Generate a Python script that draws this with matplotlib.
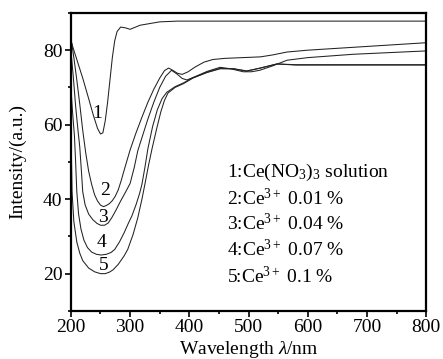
import matplotlib
matplotlib.use("Agg")
import matplotlib.pyplot as plt
from matplotlib.ticker import MultipleLocator

plt.rcParams['font.family'] = ['Liberation Serif', 'DejaVu Serif']
plt.rcParams['mathtext.fontset'] = 'custom'
plt.rcParams['mathtext.rm'] = 'Liberation Serif'
plt.rcParams['mathtext.it'] = 'Liberation Serif:italic'

# ---- data ----
x1 = [200, 210, 220, 230, 238, 245, 250, 254, 258, 262, 266, 270, 274, 278, 284, 292, 300, 317, 350, 380, 800]
y1 = [82.5, 77.5, 72.5, 67, 62.5, 59, 57.5, 57.8, 61, 66, 72, 78, 82.5, 85, 86.2, 86, 85.6, 86.7, 87.6, 87.8, 87.8]

x2 = [200, 205, 210, 215, 220, 225, 230, 235, 240, 245, 250, 255, 260, 265, 270, 275, 280, 285, 290, 300, 310,
      320, 330, 340, 350, 358, 365, 372, 380, 388, 398, 410, 425, 440, 460, 490, 520, 540, 565, 600, 680, 800]
y2 = [83.5, 78, 72, 65.5, 58.5, 52.5, 47.5, 44, 41.2, 39.5, 38.4, 38, 38.3, 38.8, 39.6, 40.8, 42.5, 45, 47.8, 53.2, 57.8,
      62, 66, 69.5, 72.5, 74.5, 75.2, 74.6, 73.8, 73.5, 74.2, 75.5, 76.8, 77.5, 77.8, 78, 78.2, 78.7, 79.5, 80, 80.8, 82]

x3 = [200, 204, 208, 212, 215, 218, 220, 224, 230, 237, 244, 250, 257, 263, 269, 276, 284, 292, 300, 307, 313, 322,
      330, 340, 350, 360, 370, 380, 388, 396, 410, 430, 452, 470, 491, 505, 519, 541, 565, 600, 677, 800]
y3 = [80, 73, 65, 58.5, 54, 47, 42, 38.5, 36, 34.5, 33.5, 33, 33, 33.6, 35, 37, 39.5, 41.8, 44.2, 48.5, 53, 57.5,
      61.5, 66, 70, 73, 74.6, 73.5, 72.4, 72, 72.9, 74.3, 75.4, 75, 74.2, 74.2, 74.6, 75.8, 77.3, 78, 78.9, 79.8]

x4 = [200, 203, 206, 208, 210, 213, 217, 222, 228, 235, 243, 251, 260, 268, 274, 282, 290, 297, 303, 310, 316, 320,
      325, 330, 338, 346, 354, 362, 376, 390, 406, 430, 452, 475, 497, 520, 548, 580, 650, 800]
y4 = [70, 63, 57, 50, 42, 36, 32, 29, 27, 25.8, 25.2, 25, 25.2, 25.7, 26.5, 28.5, 31, 33.5, 35.5, 38.5, 41.5, 44,
      48.5, 53.5, 59.5, 64, 67, 68.7, 70.2, 71.2, 72.6, 74.1, 75.1, 75, 74.4, 75.2, 76.3, 76.1, 76.1, 76.1]

x5 = [200, 202, 205, 210, 215, 220, 230, 240, 250, 258, 265, 271, 280, 290, 296, 305, 313, 320, 325, 331, 337, 345,
      352, 358, 364, 376, 390, 406, 430, 452, 475, 497, 520, 548, 580, 620, 800]
y5 = [60, 42, 34, 28.5, 25.5, 23.5, 21.5, 20.5, 20, 20, 20.4, 21, 22.5, 24.8, 26.5, 30.5, 35, 40, 44, 49, 53.5, 59,
      63.5, 66.5, 68.5, 70, 71, 72.5, 74, 75, 75, 74.4, 75.2, 76.3, 76, 76, 76]

curve_labels = ["1", "2", "3", "4", "5"]
label_x = [244, 257, 254, 252, 256]
label_y = [63, 42.4, 35, 28.4, 22.2]

legend_lines = ["1:Ce(NO$_3$)$_3$ solution", "2:Ce$^{3+}$ 0.01 %", "3:Ce$^{3+}$ 0.04 %",
                "4:Ce$^{3+}$ 0.07 %", "5:Ce$^{3+}$ 0.1 %"]
legend_x = 464
legend_y = [47.2, 40.2, 33.5, 26.5, 19.2]

# ---- figure ----
fig = plt.figure(figsize=(4.43, 3.59), dpi=100)
ax = fig.add_axes([0.160, 0.134, 0.802, 0.830])

for xs, ys in [(x1, y1), (x2, y2), (x3, y3), (x4, y4), (x5, y5)]:
    ax.plot(xs, ys, color='#222222', lw=0.75)

for t, lx, ly in zip(curve_labels, label_x, label_y):
    ax.text(lx, ly, t, fontsize=14, ha='center', va='center')

for t, ly in zip(legend_lines, legend_y):
    ax.text(legend_x, ly, t, fontsize=14, ha='left', va='center')

ax.set_xlim(200, 800)
ax.set_ylim(10, 90)
ax.xaxis.set_major_locator(MultipleLocator(100))
ax.xaxis.set_minor_locator(MultipleLocator(50))
ax.yaxis.set_major_locator(MultipleLocator(20))
ax.yaxis.set_minor_locator(MultipleLocator(10))
ax.set_yticks([20, 40, 60, 80])
ax.tick_params(which='both', direction='out', top=False, right=False, labelsize=14, width=1.2, pad=2)
ax.tick_params(which='major', length=4)
ax.tick_params(which='minor', length=2.5)
for s in ax.spines.values():
    s.set_linewidth(1.6)

ax.set_xlabel("Wavelength $\\lambda$/nm", fontsize=14)
ax.set_ylabel("Intensity/(a.u.)", fontsize=14)
ax.xaxis.set_label_coords(0.5, -0.095)
ax.yaxis.set_label_coords(-0.125, 0.5)

fig.savefig("out.png", dpi=100)
